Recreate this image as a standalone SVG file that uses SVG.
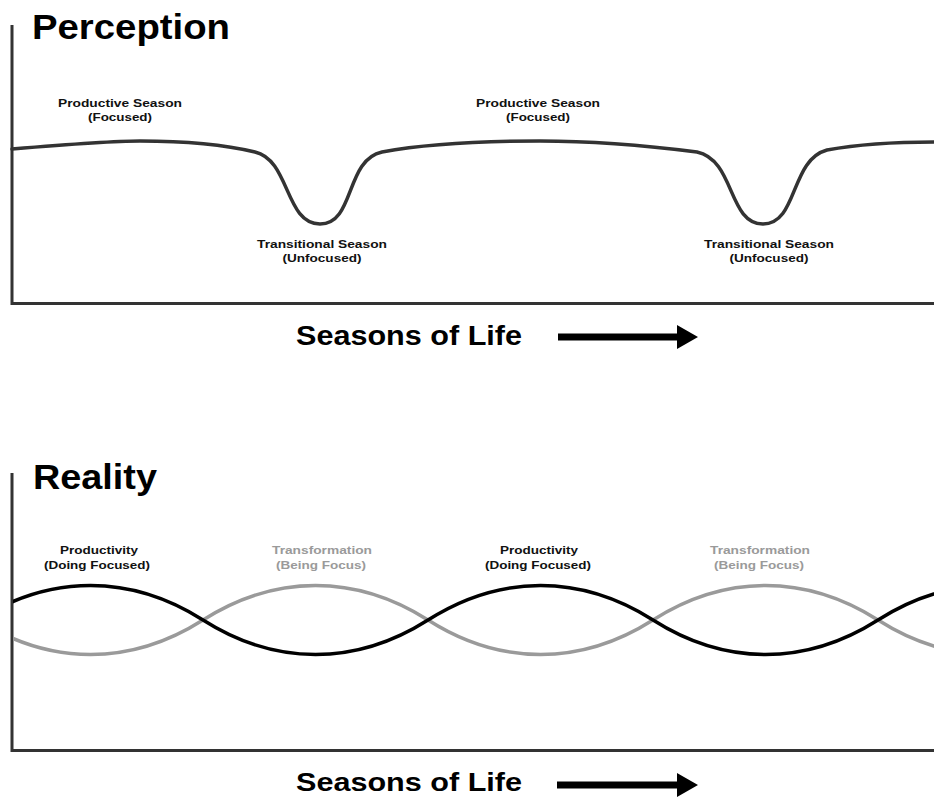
<svg xmlns="http://www.w3.org/2000/svg" width="934" height="797" viewBox="0 0 934 797">
<style>
.title{font-family:"Liberation Sans",Arial,sans-serif;font-weight:bold;font-size:35px;fill:#000}
.lbl{font-family:"Liberation Sans",Arial,sans-serif;font-weight:bold;font-size:11.5px;fill:#111;text-anchor:middle}
.gry{fill:#9a9a9a}
.axis{fill:none;stroke:#333;stroke-width:3}
.curve{fill:none;stroke:#333;stroke-width:3.5;stroke-linecap:round}
.wb{fill:none;stroke:#000;stroke-width:3.5}
.wg{fill:none;stroke:#9a9a9a;stroke-width:3.5}
.axlbl{font-family:"Liberation Sans",Arial,sans-serif;font-weight:bold;font-size:28px;fill:#000}
.axlbl2{font-family:"Liberation Sans",Arial,sans-serif;font-weight:bold;font-size:26px;fill:#000}
</style>
<defs>
<clipPath id="plot"><rect x="13" y="440" width="921" height="300"/></clipPath>
</defs>
<rect width="934" height="797" fill="#fff"/>

<g id="perception">
<text class="title" x="32" y="39" textLength="198" lengthAdjust="spacingAndGlyphs">Perception</text>
<path class="axis" d="M12,25 V303.5 H934"/>
<path class="curve" d="M12,149 C60,145 110,141 140,141 C190,141 230,146 255,152 C290,160 285,224 320,224 C355,224 345,160 382,152 C420,145 480,141 540,141 C600,141 650,146 697,152 C735,160 728,224 763,224 C798,224 790,160 827,150 C860,144 900,142 934,142"/>
</g>

<g id="perc-labels">
<text class="lbl" x="120" y="107" textLength="124" lengthAdjust="spacingAndGlyphs">Productive Season</text>
<text class="lbl" x="120" y="121" textLength="64" lengthAdjust="spacingAndGlyphs">(Focused)</text>
<text class="lbl" x="538" y="107" textLength="124" lengthAdjust="spacingAndGlyphs">Productive Season</text>
<text class="lbl" x="538" y="121" textLength="64" lengthAdjust="spacingAndGlyphs">(Focused)</text>
<text class="lbl" x="322" y="248" textLength="130" lengthAdjust="spacingAndGlyphs">Transitional Season</text>
<text class="lbl" x="322" y="262" textLength="79" lengthAdjust="spacingAndGlyphs">(Unfocused)</text>
<text class="lbl" x="769" y="248" textLength="130" lengthAdjust="spacingAndGlyphs">Transitional Season</text>
<text class="lbl" x="769" y="262" textLength="79" lengthAdjust="spacingAndGlyphs">(Unfocused)</text>
</g>

<g id="perc-xlabel">
<text class="axlbl" x="296" y="345" textLength="226" lengthAdjust="spacingAndGlyphs">Seasons of Life</text>
<path d="M558,333.5 H677 V325 L698,337 L677,349 V340.5 H558 Z" fill="#000"/>
</g>

<g id="reality">
<text class="title" x="33" y="489" textLength="124" lengthAdjust="spacingAndGlyphs">Reality</text>
<path class="axis" d="M12,473 V750.5 H934"/>
</g>

<g id="waves" clip-path="url(#plot)">
<path class="wg" d="M-22,620 C11,641 49,654.5 90.5,654.5 S170,641 203,620 S274,585.5 315.5,585.5 S395,599 428,620 S499,654.5 540.5,654.5 S620,641 653,620 S724,585.5 765.5,585.5 S845,599 878,620 S949,654.5 990.5,654.5"/>
<path class="wb" d="M-22,620 C11,599 49,585.5 90.5,585.5 S170,599 203,620 S274,654.5 315.5,654.5 S395,641 428,620 S499,585.5 540.5,585.5 S620,599 653,620 S724,654.5 765.5,654.5 S845,641 878,620 S949,585.5 990.5,585.5"/>
</g>

<g id="real-labels">
<text class="lbl" x="99" y="554" textLength="78" lengthAdjust="spacingAndGlyphs">Productivity</text>
<text class="lbl" x="97" y="569" textLength="106" lengthAdjust="spacingAndGlyphs">(Doing Focused)</text>
<text class="lbl gry" x="322" y="554" textLength="100" lengthAdjust="spacingAndGlyphs">Transformation</text>
<text class="lbl gry" x="321" y="569" textLength="90" lengthAdjust="spacingAndGlyphs">(Being Focus)</text>
<text class="lbl" x="539" y="554" textLength="78" lengthAdjust="spacingAndGlyphs">Productivity</text>
<text class="lbl" x="538" y="569" textLength="106" lengthAdjust="spacingAndGlyphs">(Doing Focused)</text>
<text class="lbl gry" x="760" y="554" textLength="100" lengthAdjust="spacingAndGlyphs">Transformation</text>
<text class="lbl gry" x="759" y="569" textLength="90" lengthAdjust="spacingAndGlyphs">(Being Focus)</text>
</g>

<g id="real-xlabel">
<text class="axlbl2" x="296" y="791" textLength="226" lengthAdjust="spacingAndGlyphs">Seasons of Life</text>
<path d="M557,781.5 H677 V773 L698,785 L677,797 V788.5 H557 Z" fill="#000"/>
</g>
</svg>
